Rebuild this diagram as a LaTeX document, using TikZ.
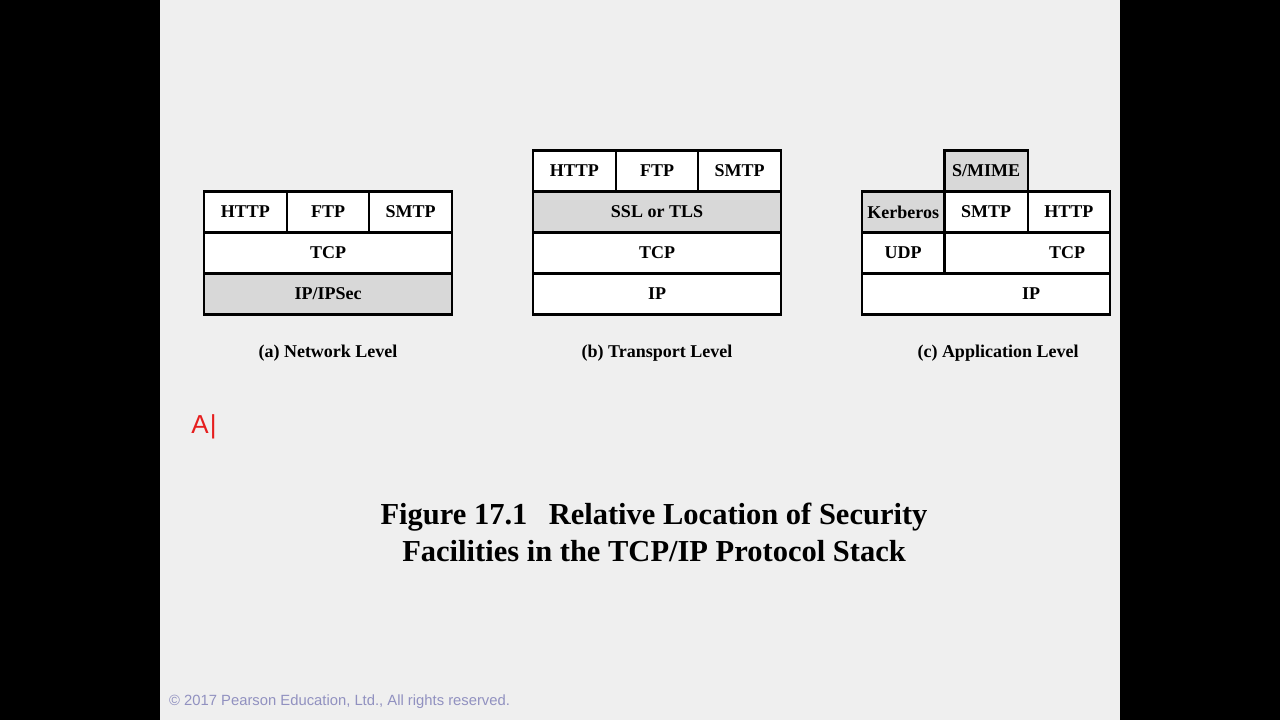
\documentclass[tikz,border=0pt]{standalone}
\usepackage{fontspec}
\setmainfont{Liberation Serif}
\newfontfamily\copyfont{Liberation Sans}
\usepackage{xcolor}
\usepackage{tikz}
\definecolor{slide}{RGB}{239,239,239}
\definecolor{secgray}{RGB}{216,216,216}
\definecolor{copyclr}{RGB}{145,145,192}
\definecolor{penred}{RGB}{230,30,30}
\tikzset{
  cell/.style ={draw,line width=2.2pt,fill=white,inner sep=0pt,outer sep=0pt,
                minimum height=41pt,font=\bfseries\fontsize{18}{20}\selectfont},
  sec/.style  ={cell,fill=secgray},
  txt/.style  ={font=\bfseries\fontsize{18}{20}\selectfont},
  lvlcap/.style ={txt},
}

\begin{document}
\begin{tikzpicture}[x=1pt,y=-1pt]
  \useasboundingbox (0,0) rectangle (1280,720);
  \fill[black] (0,0) rectangle (1280,720);
  \fill[slide] (160,0) rectangle (1120,720);

  % (a) network level
  \node[cell,minimum width=82.7pt] (aHTTP) at (245.3,212) {HTTP};
  \node[cell,minimum width=82.7pt] (aFTP)  at (328,212)   {FTP};
  \node[cell,minimum width=82.7pt] (aSMTP) at (410.7,212) {SMTP};
  \node[cell,minimum width=248pt]  (aTCP)  at (328,253)   {TCP};
  \node[sec,minimum width=248pt]   (aIP)   at (328,294)   {IP/IPSec};
  \node[lvlcap] (aCap) at (328,353.5) {(a) Network Level};

  % (b) transport level
  \node[cell,minimum width=82.7pt] (bHTTP) at (574.3,171) {HTTP};
  \node[cell,minimum width=82.7pt] (bFTP)  at (657,171)   {FTP};
  \node[cell,minimum width=82.7pt] (bSMTP) at (739.7,171) {SMTP};
  \node[sec,minimum width=248pt]   (bSSL)  at (657,212)   {SSL or TLS};
  \node[cell,minimum width=248pt]  (bTCP)  at (657,253)   {TCP};
  \node[cell,minimum width=248pt]  (bIP)   at (657,294)   {IP};
  \node[lvlcap] (bCap) at (657,353.5) {(b) Transport Level};

  % (c) application level
  \node[sec,minimum width=83.2pt]  (cMIME) at (986.1,171) {S/MIME};
  \node[sec,minimum width=82.5pt]  (cKerb) at (903.2,212) {Kerberos};
  \node[cell,minimum width=83.2pt] (cSMTP) at (986.1,212) {SMTP};
  \node[cell,minimum width=82.3pt] (cHTTP) at (1068.9,212) {HTTP};
  \node[cell,minimum width=82.5pt] (cUDP)  at (903.2,253) {UDP};
  \node[cell,minimum width=165.5pt,label={[txt,xshift=40pt]center:TCP}] (cTCP) at (1027.2,253) {};
  \node[cell,minimum width=248pt,label={[txt,xshift=45pt]center:IP}] (cIP) at (986,294) {};
  \node[lvlcap] (cCap) at (998,353.5) {(c) Application Level};

  \node[text=penred,font=\copyfont\fontsize{26}{28}\selectfont] (pen) at (204,427) {A\kern1pt|};

  \node[font=\bfseries\fontsize{30.5}{37}\selectfont,align=center] (title) at (654,532)
    {Figure 17.1\hspace{0.7em}Relative Location of Security\\Facilities in the TCP/IP Protocol Stack};

  \node[anchor=west,text=copyclr,font=\copyfont\fontsize{14.8}{16}\selectfont,inner sep=0pt] (copy) at (169,701.5)
    {\textcopyright{} 2017 Pearson Education, Ltd., All rights reserved.};
\end{tikzpicture}
\end{document}
